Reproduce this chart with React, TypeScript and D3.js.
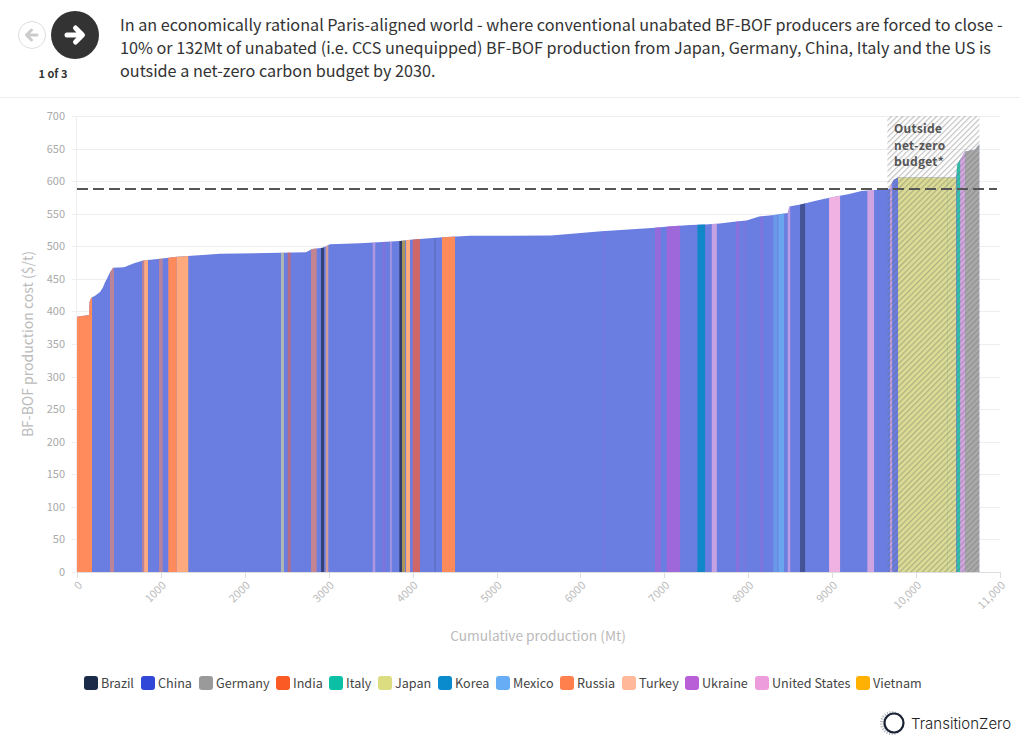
import React from "react";
import * as d3 from "d3";

const countries = ["Brazil","China","Germany","India","Italy","Japan","Korea","Mexico","Russia","Turkey","Ukraine","United States","Vietnam"];
const legendColors = ["#1b2a49","#3047d8","#9a9a9a","#fc5a24","#0cc0a6","#dcdc80","#0a8bce","#66adf6","#ff7f4d","#ffb899","#b85fd8","#ee9ddc","#ffb000"];
const bandColors = ["#1e2a4c","#6a7de0","#a9a9a9","#e8604a","#2cc4ac","#dcdc94","#1088c8","#6aa6ee","#ff8a5c","#ffa97e","#a864d8","#f0b2e2","#c8a020"];

const yTicks = [0,50,100,150,200,250,300,350,400,450,500,550,600,650,700];
const xTicks = [0,1000,2000,3000,4000,5000,6000,7000,8000,9000,10000,11000];
const xTickLabels = ["0","1000","2000","3000","4000","5000","6000","7000","8000","9000","10,000","11,000"];

// Cost curve: cumulative production (Mt) and cost ($/t)
const curveMt = [0,120,143,150,170,215,275,310,335,357,393,430,560,680,787,990,1192,1323,1704,2420,2730,2800,2930,3015,3373,3850,3970,4360,4684,5650,6250,6850,7050,7310,7490,7660,7830,7980,8130,8310,8470,8490,8620,8780,8910,9045,9190,9350,9680,9730,9780,10477,10490,10525,10584,10700,10755];
const curveCost = [392,394,394,415,421,424,430,437,445,450,460,467,468,474,478,481,484,485,488.5,490,491,496,497.6,503,504.5,508,510,514,516,516.5,523,528,530.5,532.5,533.5,535,537.6,539.6,545.8,548,551,561,564,569,573,576.5,580,585,588,602,605.5,605.5,625,633,645.6,648,657];

// Coloured bands on top of the China base
const bandCountry = ["Russia","Russia","Russia","Turkey","Russia","Russia","Turkey","Japan","India","Russia","Brazil","Turkey","United States","Ukraine","United States","Brazil","Vietnam","Turkey","India","Brazil","Russia","Ukraine","Ukraine","Ukraine","Korea","United States","Ukraine","Ukraine","Ukraine","Mexico","Mexico","United States","Brazil","United States","United States","United States","Japan","Italy","Italy","United States","Germany"];
const bandStart = [0,393,775,800,977,1088,1188,2431,2511,2789,2908,2964,3524,3643,3731,3842,3874,3921,4001,4261,4350,6269,6889,7028,7393,7565,7855,7938,8141,8299,8359,8470,8617,8963,9419,9690,9785,10370,10485,10525,10584];
const bandEnd = [179,441,800,846,1022,1188,1326,2467,2547,2857,2944,2995,3555,3675,3751,3874,3910,3969,4088,4273,4505,6281,6957,7187,7485,7625,7894,7974,8177,8347,8427,8500,8677,9094,9499,9714,10477,10380,10525,10584,10755];
const bandShare = [1,.55,.5,1,.5,1,1,.6,.6,.6,.7,.7,.5,.4,.5,.8,.7,1,.8,.25,1,.3,.7,.85,1,.7,.5,.2,.3,.7,1,.6,.5,1,.75,.7,1,.2,1,.8,1];

const budgetLine = 588;
const budgetStartMt = 9658;
const budgetEndMt = 10755;
const headline = [
  "In an economically rational Paris-aligned world - where conventional unabated BF-BOF producers are forced to close -",
  "10% or 132Mt of unabated (i.e. CCS unequipped) BF-BOF production from Japan, Germany, China, Italy and the US is",
  "outside a net-zero carbon budget by 2030.",
];
const noteLines = ["Outside","net-zero","budget*"];

const legendSwatchLeft = [84,141,199,276,329,378,438,496,560,622,685,755,856];
const FONT = "'Noto Sans CJK SC','Noto Sans',sans-serif";

export default function App() {
  const x = d3.scaleLinear().domain([0,11000]).range([77,1000]);
  const y = d3.scaleLinear().domain([0,700]).range([572,116]);
  const points = curveMt.map((m,i)=>[m,curveCost[i]] as [number,number]);
  const area = d3.area<[number,number]>().x(d=>x(d[0])).y0(y(0)).y1(d=>y(d[1]));
  const envelope = area(points) || "";
  return (
    <svg width={1020} height={748} style={{position:"absolute",left:0,top:0,fontFamily:FONT}}>
      <defs>
        <clipPath id="env"><path d={envelope}/></clipPath>
        <pattern id="hatch" width={4} height={4} patternUnits="userSpaceOnUse" patternTransform="rotate(45)">
          <line x1={0} y1={0} x2={0} y2={4} stroke="#6e6e6e" strokeWidth={2.4} strokeOpacity={0.42}/>
        </pattern>
      </defs>

      {/* header */}
      <circle cx={32} cy={35} r={13.5} fill="#fff" stroke="#ddd" strokeWidth={1}/>
      <path d="M26.5 35H37M31.5 30L26.5 35L31.5 40" fill="none" stroke="#ccc" strokeWidth={3} strokeLinejoin="round" strokeLinecap="round"/>
      <circle cx={75} cy={35} r={24} fill="#333"/>
      <path d="M67 35H82M75.5 28L82.5 35L75.5 42" fill="none" stroke="#fff" strokeWidth={5} strokeLinejoin="round" strokeLinecap="round"/>
      <text x={53} y={78} textAnchor="middle" fontSize={11} fontWeight={700} fill="#333">1 of 3</text>
      {headline.map((t,i)=>(
        <text key={i} x={120} y={31+i*23} fontSize={16.2} fill="#333">{t}</text>
      ))}
      <line x1={0} x2={1020} y1={97.5} y2={97.5} stroke="#eee"/>

      {/* grid */}
      {yTicks.map(t=>(
        <g key={t}>
          <line x1={72} x2={1000} y1={Math.round(y(t))+.5} y2={Math.round(y(t))+.5} stroke="#eee"/>
          <text x={65} y={y(t)+4} textAnchor="end" fontSize={11} fill="#aaa">{t}</text>
        </g>
      ))}
      <line x1={76.5} x2={76.5} y1={116} y2={572} stroke="#eee"/>

      {/* cost curve */}
      <g clipPath="url(#env)">
        <rect x={x(0)} y={y(700)} width={x(budgetEndMt)-x(0)} height={y(0)-y(700)} fill={bandColors[1]}/>
        {bandCountry.map((c,i)=>(
          <rect key={i} x={x(bandStart[i])} y={y(700)} width={x(bandEnd[i])-x(bandStart[i])} height={y(0)-y(700)}
            fill={bandColors[countries.indexOf(c)]} fillOpacity={bandShare[i]}/>
        ))}
      </g>

      {/* outside budget */}
      <rect x={x(budgetStartMt)} y={y(700)} width={x(budgetEndMt)-x(budgetStartMt)} height={y(0)-y(700)} fill="url(#hatch)"/>
      {noteLines.map((t,i)=>(
        <text key={t} x={894} y={133+i*16.5} fontSize={12} fontWeight={700} fill="#555" letterSpacing={0.3}>{t}</text>
      ))}

      <line x1={x(0)} x2={997} y1={y(budgetLine)} y2={y(budgetLine)} stroke="#555" strokeWidth={2} strokeDasharray="11 5"/>

      {/* x axis */}
      <line x1={77} x2={1000} y1={572.5} y2={572.5} stroke="#ddd"/>
      {xTicks.map((t,i)=>(
        <g key={t}>
          <line x1={Math.round(x(t))+.5} x2={Math.round(x(t))+.5} y1={572} y2={578} stroke="#ddd"/>
          <text transform={`translate(${x(t)+6},${y(0)+14}) rotate(-45)`} textAnchor="end" fontSize={11} fill="#bbb">{xTickLabels[i]}</text>
        </g>
      ))}
      <text x={538} y={641} textAnchor="middle" fontSize={13.7} fill="#bbb">Cumulative production (Mt)</text>
      <text transform="translate(33,344) rotate(-90)" textAnchor="middle" fontSize={14} fill="#bbb">BF-BOF production cost ($/t)</text>

      {/* legend */}
      {countries.map((c,i)=>(
        <g key={c}>
          <rect x={legendSwatchLeft[i]} y={676} width={14} height={14} rx={3} fill={legendColors[i]}/>
          <text x={legendSwatchLeft[i]+17} y={688} fontSize={12.6} fill="#444">{c}</text>
        </g>
      ))}

      {/* logo */}
      <circle cx={892} cy={723} r={10.5} fill="none" stroke="#1a2236" strokeOpacity={0.35} strokeWidth={3} strokeDasharray="1 1.6"/>
      <circle cx={894} cy={723} r={9.5} fill="#fff" stroke="#1a2236" strokeWidth={2.2}/>
      <text x={911} y={729} fontSize={15} fill="#222" fontFamily="Inter,'Noto Sans',sans-serif" fontWeight={300}>TransitionZero</text>
    </svg>
  );
}
